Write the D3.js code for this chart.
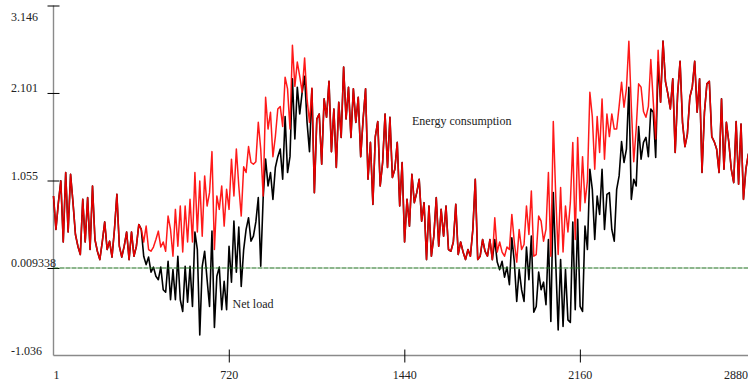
<!DOCTYPE html>
<html><head><meta charset="utf-8">
<script src="https://cdn.jsdelivr.net/npm/d3@7"></script>
<style>html,body{margin:0;padding:0;background:#fff;overflow:hidden}</style>
</head><body><svg id="chart" width="748" height="386"></svg>
<script>
// Time step between samples (same unit as the x axis)
const stepSize = 10;

// Energy consumption (red)
const energyConsumption = [
0.87,0.47,0.79,1.05,0.32,1.15,0.44,1.13,0.79,0.41,
0.27,0.17,0.83,0.32,0.85,0.23,0.99,0.35,0.21,0.11,
0.32,0.56,0.23,0.33,0.14,0.47,0.89,0.27,0.14,0.27,
0.44,0.11,0.44,0.15,0.27,0.53,0.47,0.32,0.51,0.23,
0.21,0.26,0.35,0.45,0.26,0.32,0.21,0.63,
0.47,0.15,0.71,0.27,0.75,0.20,0.75,0.32,0.83,0.32,
1.15,0.44,1.05,0.39,1.11,0.75,0.91,1.40,0.23,0.87,
0.71,0.99,0.51,0.95,0.71,1.31,0.87,1.43,0.99,0.63,
1.22,1.15,1.46,1.27,1.25,1.28,1.75,1.43,0.87,2.05,
1.67,1.87,1.34,1.58,1.91,1.94,1.70,2.29,
2.15,1.67,2.67,2.18,2.47,2.30,2.11,2.52,2.03,1.75,
2.16,0.91,1.79,1.85,1.25,2.03,1.81,2.24,1.40,1.91,
1.21,1.99,1.57,2.41,1.79,2.17,1.57,2.15,1.75,2.05,
1.34,1.79,2.15,1.07,1.51,0.77,1.58,1.76,0.99,1.27,
1.85,1.21,1.81,1.09,1.19,1.51,0.75,
1.27,0.32,0.83,0.51,1.13,0.79,0.91,1.07,0.57,0.79,
0.11,0.75,0.15,0.39,0.85,0.27,0.71,0.39,0.75,0.23,
0.21,0.32,0.77,0.17,0.32,0.20,0.11,0.23,0.15,0.47,
1.07,0.11,0.15,0.35,0.21,0.15,0.35,0.11,0.61,0.20,
0.32,0.20,0.15,0.26,0.23,0.65,0.32,
0.08,0.47,0.23,0.29,0.75,0.41,0.93,0.15,0.17,0.63,
0.57,0.33,0.47,1.15,0.15,1.76,0.87,0.17,0.97,0.20,
0.75,0.44,0.79,1.51,0.35,1.57,0.69,1.34,0.79,1.05,
2.11,1.82,1.19,1.82,1.39,2.03,1.31,1.85,1.58,1.85,
1.67,1.67,1.94,2.23,1.93,2.15,2.72,
1.94,1.28,1.67,2.21,2.17,1.88,1.81,1.94,2.50,2.00,
1.55,2.61,1.99,2.72,2.24,2.09,1.91,2.27,1.39,2.09,
2.48,1.75,1.46,1.61,2.05,2.17,2.48,1.87,2.27,1.15,
1.87,2.21,2.24,1.58,1.52,1.43,1.15,2.03,1.19,1.75,
1.51,1.19,1.03,1.76,1.01,1.73,0.83,1.19,1.37,1.25,
1.13,1.31
];

// Net load (black)
const netLoad = [
0.87,0.47,0.79,1.05,0.32,1.15,0.44,1.13,0.79,0.41,
0.27,0.17,0.83,0.32,0.85,0.23,0.99,0.35,0.21,0.11,
0.32,0.56,0.23,0.33,0.14,0.47,0.89,0.27,0.14,0.27,
0.44,0.11,0.44,0.15,0.27,0.53,0.47,
0.15,0.05,0.14,-0.04,0.02,-0.09,-0.13,0.02,-0.25,-0.28,0.09,
-0.37,-0.01,-0.37,0.15,-0.37,-0.51,0.03,-0.40,0.03,-0.45,
0.44,0.23,-0.79,0.03,0.21,-0.13,-0.45,0.45,-0.70,-0.09,
0.02,-0.49,-0.15,-0.49,0.27,-0.16,0.57,-0.04,0.50,-0.21,
0.23,0.47,0.61,0.33,0.39,0.56,0.85,0.03,0.85,1.31,
0.99,1.15,0.83,1.21,1.34,1.43,1.07,1.82,
1.15,1.34,2.27,1.55,2.17,1.85,2.11,2.30,1.75,1.40,2.15,
0.91,1.79,1.85,1.25,2.03,1.81,2.24,1.40,1.91,
1.21,1.99,1.57,2.41,1.79,2.17,1.57,2.15,1.75,2.05,
1.34,1.79,2.15,1.07,1.51,0.77,1.58,1.76,0.99,1.27,
1.85,1.21,1.81,1.09,1.19,1.51,0.75,
1.27,0.32,0.83,0.51,1.13,0.79,0.91,1.07,0.57,0.79,
0.11,0.75,0.15,0.39,0.85,0.27,0.71,0.39,0.75,0.23,
0.21,0.32,0.77,0.17,0.32,0.20,0.11,0.23,0.15,0.47,
1.07,0.11,0.15,0.35,0.21,0.15,0.35,0.11,
0.35,0.08,-0.01,0.09,-0.10,0.02,-0.19,0.37,0.09,
-0.39,-0.01,-0.25,-0.39,0.26,-0.13,0.39,-0.52,-0.45,-0.04,
-0.25,-0.16,-0.43,0.35,-0.63,0.91,0.08,-0.73,0.11,-0.69,
-0.01,-0.61,-0.64,0.56,-0.49,0.59,-0.45,-0.51,0.51,0.23,
1.19,0.95,0.35,0.87,0.65,1.19,0.47,0.89,0.91,0.47,
0.33,0.95,1.11,1.52,1.27,1.43,2.17,
0.83,1.07,0.99,1.70,1.31,1.51,1.57,1.34,1.91,1.87,1.33,2.47,1.99,
2.72,2.24,2.09,1.91,2.27,1.39,2.09,2.48,1.75,1.46,
1.61,2.05,2.17,2.48,1.87,2.27,1.15,1.87,2.21,2.24,
1.58,1.52,1.43,1.15,2.03,1.19,1.75,1.51,1.19,1.03,
1.76,1.01,1.73,0.83,1.19,1.37,1.25,1.13,1.31
];

const timeSteps = energyConsumption.map((_, i) => 1 + i * stepSize);

const yTickValues = [-1.036, 0.009338, 1.055, 2.101, 3.146];
const yTickLabels = ["-1.036", "0.009338", "1.055", "2.101", "3.146"];
const xTickValues = [1, 720, 1440, 2160, 2880];
const xTickLabels = ["1", "720", "1440", "2160", "2880"];
const referenceLevel = 0.009338;
const seriesLabels = ["Energy consumption", "Net load"];

const W = 748, H = 386;
const svg = d3.select("#chart");
const x = d3.scaleLinear().domain([1, 2880]).range([53.5, 755.4]);
const y = d3.scaleLinear().domain([-1.036, 3.146]).range([355.5, 5.5]);
const font = "'Liberation Serif', 'Times New Roman', serif";

// Y axis
const yAxis = svg.append("g").attr("transform", `translate(${x(1)},0)`)
  .call(d3.axisLeft(y).tickValues(yTickValues).tickSize(6).tickFormat((d, i) => yTickLabels[i]));
yAxis.select(".domain").attr("stroke", "#8a8a8a").attr("stroke-width", 1.4)
  .attr("d", `M0,${y(3.146)}V${y(-1.036)}`);
yAxis.selectAll(".tick line").attr("x1", 6).attr("x2", -6).attr("stroke", "#000").attr("stroke-width", 1)
  .attr("display", d => d === -1.036 ? "none" : null);
yAxis.selectAll(".tick text")
  .attr("x", 11 - x(1)).attr("dy", null)
  .attr("y", d => d === 3.146 ? 14.5 : -1.5)
  .attr("text-anchor", "start")
  .style("font-family", font).style("font-size", "12px").attr("fill", "#222");

// X axis
const xAxis = svg.append("g").attr("transform", `translate(0,${y(-1.036)})`)
  .call(d3.axisBottom(x).tickValues(xTickValues).tickSize(6).tickFormat((d, i) => xTickLabels[i]));
xAxis.select(".domain").attr("stroke", "#8a8a8a").attr("stroke-width", 1.4)
  .attr("d", `M${x(1)},0H${W}`);
xAxis.selectAll(".tick line").attr("y1", -6).attr("y2", 7).attr("stroke", "#000").attr("stroke-width", 1)
  .attr("display", d => (d === 1 || d === 2880) ? "none" : null);
xAxis.selectAll(".tick text")
  .attr("y", 23).attr("dy", null)
  .attr("dx", d => d === 1 ? 2.5 : 0)
  .attr("text-anchor", d => d === 2880 ? "end" : "middle")
  .attr("transform", d => d === 2880 ? `translate(${747.5 - x(2880)},0)` : null)
  .style("font-family", font).style("font-size", "12px").attr("fill", "#222");

// Lines
const line = d3.line().x((d, i) => x(timeSteps[i])).y(d => y(d));
svg.append("path").datum(netLoad).attr("d", line)
  .attr("fill", "none").attr("stroke", "#000").attr("stroke-width", 1.6).attr("stroke-linejoin", "round");
svg.append("path").datum(energyConsumption).attr("d", line)
  .attr("fill", "none").attr("stroke", "#ff0000").attr("stroke-opacity", 0.9).attr("stroke-width", 1.5).attr("stroke-linejoin", "round");

// Reference level
svg.append("line")
  .attr("x1", x(1)).attr("x2", W)
  .attr("y1", y(referenceLevel)).attr("y2", y(referenceLevel))
  .attr("stroke", "#1a6e1a").attr("stroke-width", 1.1).attr("stroke-dasharray", "5,1");

// Series labels
svg.append("text").attr("x", 412).attr("y", 125).text(seriesLabels[0])
  .style("font-family", font).style("font-size", "12px").attr("fill", "#222");
svg.append("text").attr("x", 232.5).attr("y", 307.5).text(seriesLabels[1])
  .style("font-family", font).style("font-size", "12px").attr("fill", "#222");
</script></body></html>
